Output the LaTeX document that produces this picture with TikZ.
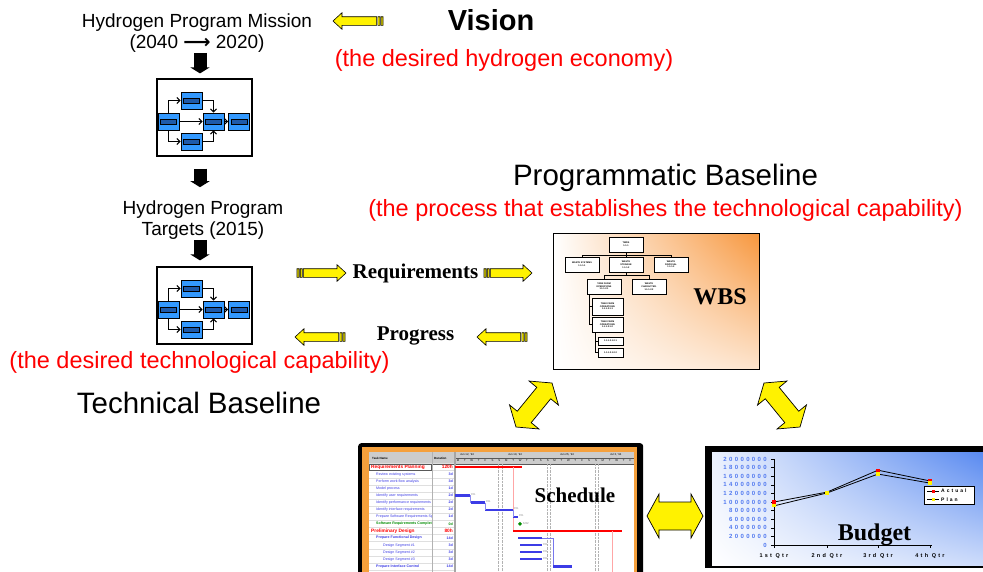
\documentclass[tikz,border=0pt]{standalone}
\usepackage{fontspec}
\setmainfont{Liberation Sans}
\newfontfamily\timesbf{Liberation Serif}
\newfontfamily\arrowfont{DejaVu Sans}
\usetikzlibrary{calc}
\usetikzlibrary{arrows.meta}
\usetikzlibrary{positioning}
\usetikzlibrary{shadings}
\definecolor{flowblue}{RGB}{51,153,255}
\definecolor{flowbar}{RGB}{30,90,170}
\definecolor{wbsorange}{RGB}{247,150,60}
\definecolor{wbspeach}{RGB}{253,228,205}
\definecolor{schedorange}{RGB}{245,160,60}
\definecolor{taskblue}{RGB}{60,60,230}
\definecolor{budgetblue}{RGB}{85,135,240}
\definecolor{axisblue}{RGB}{80,120,240}

\tikzset{
  miniflow/.pic={
    \node[draw, line width=1.2pt, fill=white, minimum width=95, minimum height=77, inner sep=0] (-frame) at (47.5,38.5) {};
    \node[blk] (-l) at (11.5,42.5) {};
    \node[blk] (-t) at (34.5,21.5) {};
    \node[blk] (-b) at (34.5,62.5) {};
    \node[blk] (-m) at (56.5,42.5) {};
    \node[blk] (-r) at (82,42.5) {};
    \draw[flow] (-l.north) |- (-t.west);
    \draw[flow] (-l.south) |- (-b.west);
    \draw[flow] (-l.east) -- (-m.west);
    \draw[flow] (-t.east) -| (-m.north);
    \draw[flow] (-b.east) -| (-m.south);
    \draw[flow] (-m.east) -- (-r.west);
  }
}

\begin{document}
\begin{tikzpicture}[x=1pt, y=-1pt,
  txt/.style={inner sep=0, font=\fontsize{19}{21.5}\selectfont},
  redtxt/.style={inner sep=0, text=red, font=\fontsize{23.5}{28}\selectfont},
  bigtxt/.style={inner sep=0, font=\fontsize{29.5}{34}\selectfont},
  serifbf/.style={inner sep=0, font=\fontsize{#1}{#1}\timesbf\bfseries},
  blk/.style={draw=black, line width=0.8pt, fill=flowblue, minimum width=21, minimum height=17, inner sep=0,
    path picture={\draw[fill=flowbar, line width=0.5pt] ($(path picture bounding box.center)+(-8,-2.5)$) rectangle ($(path picture bounding box.center)+(8,2.5)$);}},
  flow/.style={line width=1.1pt, -{Straight Barb[length=3pt,width=6pt]}},
  blkarr/.style={line width=13pt, -{Triangle[width=19pt,length=6pt]}},
  wbsbox/.style={draw, line width=0.5pt, fill=white, minimum width=34, minimum height=15, inner sep=0.3, align=center,
    font=\fontsize{2.3}{2.7}\selectfont\bfseries},
  yarrow/.style={draw=black, fill=yellow, line width=0.6pt, line join=miter,
    to path={
      ($(\tikztostart)!2pt!(\tikztotarget)$) coordinate (ya1)
      ($(\tikztostart)!3.2pt!(\tikztotarget)$) coordinate (ya2)
      ($(\tikztostart)!5.2pt!(\tikztotarget)$) coordinate (ya3)
      ($(\tikztostart)!6.4pt!(\tikztotarget)$) coordinate (ya4)
      ($(\tikztotarget)!9pt!(\tikztostart)$) coordinate (ya5)
      ($(\tikztostart)!4.3pt!90:(\tikztotarget)$) -- ($(ya1)!4.3pt!90:(\tikztotarget)$)
        -- ($(ya1)!4.3pt!-90:(\tikztotarget)$) -- ($(\tikztostart)!4.3pt!-90:(\tikztotarget)$) -- cycle
      ($(ya2)!4.3pt!90:(\tikztotarget)$) -- ($(ya3)!4.3pt!90:(\tikztotarget)$)
        -- ($(ya3)!4.3pt!-90:(\tikztotarget)$) -- ($(ya2)!4.3pt!-90:(\tikztotarget)$) -- cycle
      ($(ya4)!4.3pt!90:(\tikztotarget)$) -- ($(ya5)!4.3pt!90:(\tikztotarget)$) -- ($(ya5)!8.3pt!90:(\tikztotarget)$)
        -- (\tikztotarget) -- ($(ya5)!8.3pt!-90:(\tikztotarget)$) -- ($(ya5)!4.3pt!-90:(\tikztotarget)$)
        -- ($(ya4)!4.3pt!-90:(\tikztotarget)$) -- cycle
    }},
  dbl dims/.code args={#1/#2/#3}{\def\dbw{#1}\def\dbh{#2}\def\dbl{#3}},
  dblarrow/.style={draw=black, fill=yellow, line width=0.7pt, line join=miter,
    to path={
      ($(\tikztostart)!\dbl!(\tikztotarget)$) coordinate (da1)
      ($(\tikztotarget)!\dbl!(\tikztostart)$) coordinate (da2)
      (\tikztostart) -- ($(da1)!\dbh!90:(\tikztotarget)$) -- ($(da1)!\dbw!90:(\tikztotarget)$)
        -- ($(da2)!\dbw!90:(\tikztotarget)$) -- ($(da2)!\dbh!90:(\tikztotarget)$) -- (\tikztotarget)
        -- ($(da2)!\dbh!-90:(\tikztotarget)$) -- ($(da2)!\dbw!-90:(\tikztotarget)$)
        -- ($(da1)!\dbw!-90:(\tikztotarget)$) -- ($(da1)!\dbh!-90:(\tikztotarget)$) -- cycle
    }},
  redbar/.style={red, line width=2pt},
  bluebar/.style={taskblue, line width=2.2pt},
  tiny/.style={inner sep=0, font=\fontsize{2.8}{3}\selectfont}
]
	\useasboundingbox (0,0) rectangle (983,571);
	\fill[white] (0,0) rectangle (983,571);

	% technical baseline side
	\node[txt, align=center] (mission) at (197,33) {Hydrogen Program Mission\\(2040 {\arrowfont\bfseries ⟶} 2020)};
	\pic (mf1) at (157,79) {miniflow};
	\node[txt, align=center] (targets) at (203,220) {Hydrogen Program\\Targets (2015)};
	\pic (mf2) at (157,267) {miniflow};
	\node[redtxt, anchor=base] (techcap) at (199.5,368) {(the desired technological capability)};
	\node[bigtxt, anchor=base] (technical) at (199,413) {Technical Baseline};

	\coordinate (axis) at (200,0);
	\draw[blkarr, shorten >=5pt] (mission.south -| axis) -- (axis |- mf1-frame.north);
	\draw[blkarr, shorten <=12pt, shorten >=13pt] (axis |- mf1-frame.south) -- (axis |- targets.north);
	\draw[blkarr, shorten >=6pt] (axis |- targets.south) -- (axis |- mf2-frame.north);

	% vision
	\node[inner sep=0, anchor=base, font=\fontsize{29}{34}\selectfont\bfseries] (vision) at (491,30.5) {Vision};
	\node[redtxt, anchor=base] (visioncap) at (504,66) {(the desired hydrogen economy)};
	\coordinate (va) at (383,21);
	\coordinate (vb) at (333,21);
	\draw[yarrow] (va) to (vb);

	% programmatic baseline
	\node[bigtxt, anchor=base] (programmatic) at (665.5,185) {Programmatic Baseline};
	\node[redtxt, anchor=base] (processcap) at (665.5,216) {(the process that establishes the technological capability)};

	% requirements and progress
	\node[serifbf=21, anchor=base] (req) at (415.5,278) {Requirements};
	\node[serifbf=21, anchor=base] (prog) at (415.5,340) {Progress};
	\coordinate (r1) at (297,273);
	\coordinate (r2) at (346,273);
	\coordinate (r3) at (484,273);
	\coordinate (r4) at (532,273);
	\coordinate (p1) at (345,337);
	\coordinate (p2) at (295,337);
	\coordinate (p3) at (527,337);
	\coordinate (p4) at (477,337);
	\draw[yarrow] (r1) to (r2);
	\draw[yarrow] (r3) to (r4);
	\draw[yarrow] (p1) to (p2);
	\draw[yarrow] (p3) to (p4);

	% WBS
	\node[minimum width=206, minimum height=136, inner sep=0, anchor=north west] (wbs) at (553,233) {};
	\shade[upper right=wbsorange, lower right=wbspeach, upper left=white, lower left=white] (wbs.south west) rectangle (wbs.north east);
	\draw[line width=0.8pt] (wbs.south west) rectangle (wbs.north east);
	\node[wbsbox] (w0) at (626,244.5) {TWRS\\1.1.1};
	\node[wbsbox] (w1) at (582,264.5) {WASTE SYSTEMS\\1.1.1.1};
	\node[wbsbox] (w2) at (626,264.5) {WASTE\\STORAGE\\1.1.1.2};
	\node[wbsbox] (w3) at (671,264.5) {WASTE\\DISPOSAL\\1.1.1.3};
	\node[wbsbox] (w21) at (604,286.5) {TANK FARM\\OPERATIONS\\1.1.1.2.1};
	\node[wbsbox] (w22) at (649,286.5) {WASTE\\CHARACTER.\\1.1.1.2.2};
	\node[wbsbox, minimum width=31, minimum height=17] (w211) at (607.5,306.5) {TANK FARM\\OPERATIONS\\1.1.1.2.1.1};
	\node[wbsbox, minimum width=31] (w212) at (607.5,324.5) {TANK FARM\\OPERATIONS\\1.1.1.2.1.2};
	\node[wbsbox, minimum width=25, minimum height=8] (w2121) at (610.5,341) {1.1.1.2.1.2.1};
	\node[wbsbox, minimum width=25, minimum height=9] (w2122) at (610.5,352.5) {1.1.1.2.1.2.2};
	\draw[line width=0.5pt] (w0.south) -- (w2.north);
	\draw[line width=0.5pt] (w0.south) ++(0,2.5) -| (w1.north);
	\draw[line width=0.5pt] (w0.south) ++(0,2.5) -| (w3.north);
	\draw[line width=0.5pt] (w2.south) |- ++(0,2.5) -| (w21.north);
	\draw[line width=0.5pt] (w2.south) ++(0,2.5) -| (w22.north);
	\draw[line width=0.5pt] ($(w21.south west)+(2,0)$) |- (w211.west);
	\draw[line width=0.5pt] ($(w21.south west)+(2,0)$) |- (w212.west);
	\draw[line width=0.5pt] ($(w212.south west)+(3,0)$) |- (w2121.west);
	\draw[line width=0.5pt] ($(w212.south west)+(3,0)$) |- (w2122.west);
	\node[serifbf=24, anchor=base] (wbslbl) at (720,304) {WBS};

	% schedule
	\node[fill=black, rounded corners=3pt, minimum width=285, minimum height=140, inner sep=0, anchor=north west] (sched) at (358,443) {};
	\fill[schedorange] (362,447) rectangle (637,590);
	\fill[white] (369,452) rectangle (634,590);
	\fill[gray!40] (369,452) rectangle (634,464);
	\draw[gray!70!black, line width=0.4pt] (369,464) -- (634,464);
	\draw[gray!70!black, line width=0.3pt] (455,458) -- (634,458);
	\foreach \k in {0,...,15}
	\draw[gray!25, line width=0.3pt] (369,{463.5+7.1*\k}) -- (455,{463.5+7.1*\k});
	\draw[gray!60, line width=0.4pt] (432,452) -- (432,590);
	\foreach \x in {498,502,547,550,595,598}
	\draw[gray!60, densely dotted, line width=0.4pt] (\x,464) -- (\x,590);
	\draw[gray!70, line width=1.5pt] (455,452) -- (455,590);
	\node[tiny, anchor=west, font=\fontsize{3}{3}\selectfont\bfseries] (taskhd) at (372,458) {Task Name};
	\node[tiny, anchor=west, font=\fontsize{3}{3}\selectfont\bfseries] (durhd) at (434,458) {Duration};
	\node[tiny, anchor=west] (wk1) at (460,455) {Jun 12, '94};
	\node[tiny, anchor=west] (wk2) at (508,455) {Jun 19, '94};
	\node[tiny, anchor=west] (wk3) at (560,455) {Jun 26, '94};
	\node[tiny, anchor=west] (wk4) at (610,455) {Jul 3, '94};
	\foreach \d [count=\i from 0] in {M,T,W,T,F,S,S,M,T,W,T,F,S,S,M,T,W,T,F,S,S,M,T,W,T,F}
	\node[tiny] at ({458+6.9*\i},461) {\d};
	\foreach \k/\task/\dur/\col/\fnt/\sz/\ind in {
	  0/Requirements Planning/120h/red/\bfseries/4.8/0,
	  1/Review existing systems/3d/taskblue/\mdseries/3.6/5,
	  2/Perform work flow analysis/3d/taskblue/\mdseries/3.6/5,
	  3/Model process/1d/taskblue/\mdseries/3.6/5,
	  4/Identify user requirements/2d/taskblue/\mdseries/3.6/5,
	  5/Identify performance requirements/2d/taskblue/\mdseries/3.6/5,
	  6/Identify interface requirements/2d/taskblue/\mdseries/3.6/5,
	  7/Prepare Software Requirements Specification/1d/taskblue/\mdseries/3.6/5,
	  8/Software Requirements Complete/0d/green!55!black/\bfseries/3.6/5,
	  9/Preliminary Design/80h/red/\bfseries/4.8/0,
	  10/Prepare Functional Design/14d/taskblue/\bfseries/3.6/5,
	  11/Design Segment \#1/3d/taskblue/\mdseries/3.6/12,
	  12/Design Segment \#2/3d/taskblue/\mdseries/3.6/12,
	  13/Design Segment \#3/3d/taskblue/\mdseries/3.6/12,
	  14/Prepare Interface Control/14d/taskblue/\bfseries/3.6/5}
	{
	  \begin{scope}
	    \clip (369,452) rectangle (431.5,590);
	    \node[inner sep=0, anchor=west, text=\col, font=\fontsize{\sz}{\sz}\selectfont\fnt] at ({371+\ind},{467+7.1*\k}) {\task};
	  \end{scope}
	  \node[inner sep=0, anchor=east, text=\col, font=\fontsize{\sz}{\sz}\selectfont\bfseries] at (453,{467+7.1*\k}) {\dur};
	}
	\draw[gray!70!black, line width=0.5pt] (369.5,463.8) rectangle (431.5,470.3);
	% gantt bars
	\draw[redbar] (455,467) -- (522,467);
	\draw[red!35, line width=0.6pt] (513,467) -- (513,530.9);
	\draw[redbar] (513,530.9) -- (622,530.9);
	\draw[red!35, line width=0.6pt] (612,530.9) -- (612,590);
	\foreach \k/\a/\b in {4/455/470, 5/471/485, 6/485/513, 7/513/518, 11/520/542, 12/520/542, 13/520/542}
	{
	  \draw[bluebar] (\a,{467+7.1*\k}) -- (\b,{467+7.1*\k});
	  \node[tiny, text=gray, anchor=west] at ({\b+1},{467+7.1*\k-1}) {0\%};
	}
	\draw[taskblue!60, line width=0.4pt] (470,495.4) |- (471,502.5);
	\draw[taskblue!60, line width=0.4pt] (485,502.5) -- (485,509.6);
	\draw[taskblue!60, line width=0.4pt] (513,509.6) -- (513,516.7);
	\draw[taskblue, line width=2.6pt] (518,538) -- (542,538);
	\draw[taskblue!70, line width=0.5pt] (542,538) -| (553,566.4);
	\draw[taskblue, line width=2.6pt] (553,566.4) -- (572,566.4);
	\fill[green!55!black] (520,521.8) -- (522,523.8) -- (520,525.8) -- (518,523.8) -- cycle;
	\node[tiny, text=gray, anchor=west] at (523,523) {6/22};
	\node[serifbf=21, anchor=base] (schedlbl) at (575,502) {Schedule};

	% budget
	\node[fill=black, minimum width=290, minimum height=122, inner sep=0, anchor=north west] (budget) at (705,446) {};
	\shade[upper right=budgetblue, lower right=budgetblue!30, upper left=budgetblue!12, lower left=white] (712,452) rectangle (990,565);
	\draw[line width=0.6pt] (774,459) -- (774,545) -- (932,545);
	\foreach \v/\lab in {0/0, 1/2000000, 2/4000000, 3/6000000, 4/8000000, 5/10000000, 6/12000000, 7/14000000, 8/16000000, 9/18000000, 10/20000000}
	{
	  \draw[line width=0.5pt] (771,{545-8.6*\v}) -- (774,{545-8.6*\v});
	  \node[inner sep=0, anchor=east, text=axisblue, font=\fontsize{6}{6}\selectfont\bfseries\addfontfeature{LetterSpace=40}] at (767,{545-8.6*\v}) {\lab};
	}
	\foreach \x/\lab/\a/\p [count=\i] in {774/1st Qtr/10/9.1, 827/2nd Qtr/12.3/12.1, 878/3rd Qtr/17.4/16.5, 930/4th Qtr/14.9/14.4}
	{
	  \draw[line width=0.5pt] (\x,545) -- (\x,548);
	  \node[inner sep=0, font=\fontsize{5.5}{5.5}\selectfont\bfseries\addfontfeature{LetterSpace=40}] at (\x,556) {\lab};
	  \coordinate (ac\i) at (\x,{545-4.3*\a});
	  \coordinate (pl\i) at (\x,{545-4.3*\p});
	}
	\draw[line width=0.8pt] (ac1) -- (ac2) -- (ac3) -- (ac4);
	\draw[line width=0.8pt] (pl1) -- (pl2) -- (pl3) -- (pl4);
	\foreach \i in {1,...,4}
	{
	  \fill[red] ($(ac\i)+(-1.6,-1.6)$) rectangle ($(ac\i)+(1.6,1.6)$);
	  \fill[yellow] ($(pl\i)+(-1.6,-1.6)$) rectangle ($(pl\i)+(1.6,1.6)$);
	}
	\node[draw, line width=0.8pt, fill=white, minimum width=50, minimum height=18, inner sep=0] (legend) at (949,495) {};
	\draw[line width=0.8pt] (927,491) -- (939,491);
	\fill[red] (931.5,489.5) rectangle (934.5,492.5);
	\draw[line width=0.8pt] (927,499.5) -- (939,499.5);
	\fill[yellow] (931.5,498) rectangle (934.5,501);
	\node[inner sep=0, anchor=west, font=\fontsize{5}{5}\selectfont\bfseries\addfontfeature{LetterSpace=40}] (actual) at (941,491) {Actual};
	\node[inner sep=0, anchor=west, font=\fontsize{5}{5}\selectfont\bfseries\addfontfeature{LetterSpace=40}] (plan) at (941,499.5) {Plan};
	\node[serifbf=24, anchor=base] (budgetlbl) at (874.5,540) {Budget};

	% double arrows
	\coordinate (d1a) at (516,427);
	\coordinate (d1b) at (552,383);
	\coordinate (d2a) at (764,383);
	\coordinate (d2b) at (800,427);
	\coordinate (d3a) at (647,516);
	\coordinate (d3b) at (703,516);
	\draw[dblarrow, dbl dims=9pt/19pt/13pt] (d1a) to (d1b);
	\draw[dblarrow, dbl dims=9pt/19pt/13pt] (d2a) to (d2b);
	\draw[dblarrow, dbl dims=14pt/22pt/12pt] (d3a) to (d3b);
\end{tikzpicture}
\end{document}
